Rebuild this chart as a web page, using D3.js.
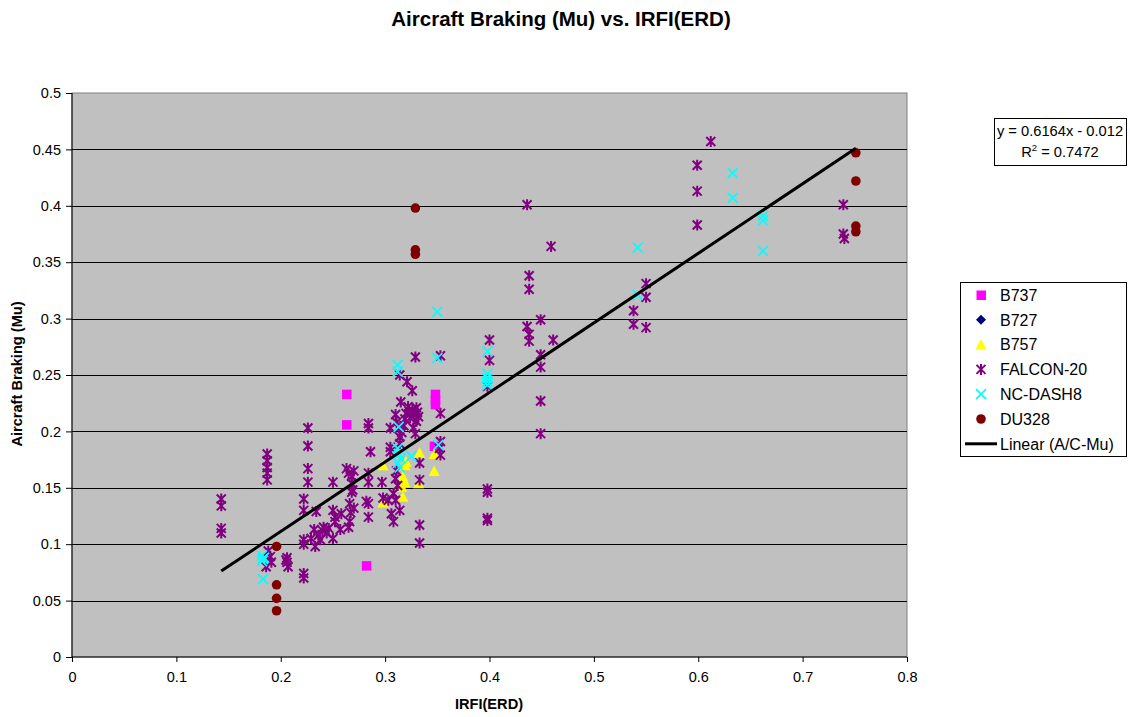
<!DOCTYPE html>
<html>
<head>
<meta charset="utf-8">
<script src="https://cdn.jsdelivr.net/npm/d3@7/dist/d3.min.js"></script>
<style>
  html, body { margin: 0; padding: 0; background: #fff; }
  svg { display: block; font-family: "Liberation Sans", Arial, sans-serif; }
</style>
</head>
<body>
<svg id="chart" width="1130" height="717"></svg>
<script>
// Braking friction measurements per aircraft type: [IRFI(ERD), Mu]
const b737 = [
  [0.263, 0.233], [0.263, 0.206], [0.282, 0.081], [0.348, 0.233],
  [0.348, 0.228], [0.348, 0.224], [0.347, 0.187]
];
const b727 = [];
const b757 = [
  [0.298, 0.170], [0.333, 0.181], [0.347, 0.180], [0.347, 0.165],
  [0.319, 0.170], [0.317, 0.160], [0.319, 0.155], [0.332, 0.154],
  [0.298, 0.137], [0.317, 0.142], [0.316, 0.151], [0.320, 0.173]
];
const falcon20 = [
  [0.143, 0.140], [0.143, 0.134], [0.143, 0.114], [0.143, 0.110],
  [0.187, 0.180], [0.187, 0.174], [0.187, 0.168], [0.187, 0.163], [0.187, 0.157],
  [0.188, 0.094], [0.190, 0.089], [0.186, 0.080], [0.191, 0.084],
  [0.206, 0.088], [0.206, 0.084], [0.207, 0.080], [0.205, 0.086],
  [0.226, 0.203], [0.226, 0.187], [0.226, 0.167], [0.226, 0.155], [0.222, 0.140],
  [0.222, 0.130], [0.222, 0.104], [0.222, 0.100], [0.222, 0.074], [0.222, 0.070],
  [0.232, 0.113], [0.236, 0.108], [0.240, 0.112], [0.238, 0.104], [0.233, 0.098],
  [0.244, 0.110], [0.246, 0.114], [0.250, 0.105], [0.229, 0.105], [0.234, 0.129],
  [0.241, 0.115],
  [0.250, 0.155], [0.250, 0.130], [0.252, 0.124], [0.252, 0.120], [0.257, 0.113],
  [0.258, 0.127], [0.263, 0.167], [0.265, 0.163], [0.268, 0.160], [0.270, 0.165],
  [0.269, 0.148], [0.268, 0.146], [0.266, 0.136], [0.267, 0.128], [0.266, 0.120],
  [0.265, 0.115], [0.270, 0.132], [0.268, 0.154],
  [0.284, 0.207], [0.284, 0.203], [0.286, 0.182], [0.284, 0.163], [0.284, 0.155],
  [0.282, 0.138], [0.284, 0.136], [0.284, 0.124],
  [0.297, 0.155], [0.298, 0.141], [0.303, 0.139], [0.305, 0.186], [0.305, 0.182],
  [0.305, 0.203], [0.308, 0.145], [0.306, 0.127], [0.308, 0.120], [0.310, 0.139],
  [0.311, 0.165], [0.310, 0.158], [0.312, 0.152], [0.310, 0.215], [0.314, 0.130],
  [0.314, 0.250], [0.321, 0.244], [0.326, 0.236], [0.315, 0.226], [0.322, 0.222],
  [0.326, 0.219], [0.330, 0.221], [0.328, 0.215], [0.324, 0.212], [0.330, 0.209],
  [0.320, 0.216], [0.332, 0.213], [0.311, 0.208], [0.313, 0.203], [0.314, 0.195],
  [0.314, 0.189], [0.327, 0.203], [0.329, 0.198], [0.316, 0.199], [0.329, 0.266],
  [0.318, 0.205], [0.323, 0.218], [0.319, 0.211], [0.331, 0.217],
  [0.333, 0.172], [0.333, 0.157], [0.333, 0.117], [0.333, 0.101],
  [0.353, 0.267], [0.353, 0.216], [0.353, 0.191], [0.352, 0.185], [0.353, 0.179],
  [0.400, 0.281], [0.400, 0.263], [0.398, 0.240], [0.398, 0.149], [0.398, 0.146],
  [0.398, 0.123], [0.398, 0.121],
  [0.436, 0.401], [0.459, 0.364], [0.438, 0.338], [0.438, 0.326], [0.449, 0.299],
  [0.436, 0.293], [0.438, 0.286], [0.438, 0.280], [0.461, 0.281], [0.449, 0.268],
  [0.449, 0.257], [0.449, 0.227], [0.449, 0.198],
  [0.550, 0.331], [0.550, 0.319], [0.538, 0.307], [0.538, 0.295], [0.550, 0.292],
  [0.612, 0.457], [0.599, 0.436], [0.599, 0.413], [0.599, 0.383],
  [0.739, 0.401], [0.739, 0.375], [0.740, 0.371]
];
const ncDash8 = [
  [0.182, 0.090], [0.183, 0.087], [0.182, 0.085], [0.184, 0.088], [0.183, 0.069],
  [0.312, 0.259], [0.312, 0.253], [0.313, 0.204], [0.312, 0.185], [0.313, 0.180],
  [0.315, 0.176], [0.312, 0.172], [0.314, 0.168], [0.325, 0.178], [0.351, 0.188],
  [0.350, 0.306], [0.350, 0.265], [0.398, 0.271], [0.398, 0.251], [0.398, 0.247],
  [0.398, 0.244], [0.398, 0.241], [0.542, 0.363], [0.542, 0.321], [0.633, 0.429],
  [0.633, 0.407], [0.662, 0.391], [0.662, 0.387], [0.662, 0.360]
];
const du328 = [
  [0.329, 0.398], [0.329, 0.361], [0.329, 0.357], [0.196, 0.098], [0.196, 0.064],
  [0.196, 0.052], [0.196, 0.041], [0.751, 0.447], [0.751, 0.422], [0.751, 0.382],
  [0.751, 0.377]
];

// Linear fit over all aircraft
const trendSlope = 0.6164;
const trendIntercept = -0.012;
const rSquared = 0.7472;

const xTicks = [0, 0.1, 0.2, 0.3, 0.4, 0.5, 0.6, 0.7, 0.8];
const yTicks = [0, 0.05, 0.1, 0.15, 0.2, 0.25, 0.3, 0.35, 0.4, 0.45, 0.5];

const seriesNames = ["B737", "B727", "B757", "FALCON-20", "NC-DASH8", "DU328"];

const series = [
  { name: seriesNames[0], data: b737, shape: "square", color: "#FF00FF" },
  { name: seriesNames[1], data: b727, shape: "diamond", color: "#000080" },
  { name: seriesNames[2], data: b757, shape: "triangle", color: "#FFFF00" },
  { name: seriesNames[3], data: falcon20, shape: "asterisk", color: "#800080" },
  { name: seriesNames[4], data: ncDash8, shape: "cross", color: "#00FFFF" },
  { name: seriesNames[5], data: du328, shape: "circle", color: "#800000" }
];

const svg = d3.select("#chart");
const plot = { left: 72, right: 907, top: 93, bottom: 657 };

const x = d3.scaleLinear().domain([0, 0.8]).range([plot.left, plot.right]);
const y = d3.scaleLinear().domain([0, 0.5]).range([plot.bottom, plot.top]);

// Title
svg.append("text")
  .attr("x", 561).attr("y", 26)
  .attr("text-anchor", "middle")
  .attr("font-size", "20.5px").attr("font-weight", "bold")
  .text("Aircraft Braking (Mu) vs. IRFI(ERD)");

// Plot area
svg.append("rect")
  .attr("x", plot.left).attr("y", plot.top)
  .attr("width", plot.right - plot.left).attr("height", plot.bottom - plot.top)
  .attr("fill", "#C0C0C0").attr("stroke", "#808080").attr("stroke-width", 1);

// Horizontal gridlines
svg.append("g").selectAll("line")
  .data(yTicks.filter(v => v > 0 && v < 0.5))
  .join("line")
  .attr("x1", plot.left).attr("x2", plot.right)
  .attr("y1", d => Math.round(y(d)) + 0.5).attr("y2", d => Math.round(y(d)) + 0.5)
  .attr("stroke", "#000").attr("stroke-width", 1);

// Axes
const fmt = d => d === 0 ? "0" : String(+d.toFixed(2));
const yAxis = svg.append("g")
  .attr("transform", `translate(${plot.left},0)`)
  .call(d3.axisLeft(y).tickValues(yTicks).tickFormat(fmt).tickSize(6).tickPadding(5));
const xAxis = svg.append("g")
  .attr("transform", `translate(0,${plot.bottom})`)
  .call(d3.axisBottom(x).tickValues(xTicks).tickFormat(fmt).tickSize(5).tickPadding(10));
[xAxis, yAxis].forEach(g => {
  g.selectAll("text").attr("font-size", "14.5px").attr("fill", "#000")
    .attr("font-family", "'Liberation Sans', Arial, sans-serif");
  g.selectAll("line").attr("stroke", "#000");
  g.select(".domain").attr("stroke", "#000");
});
yAxis.select(".domain").attr("d", `M0,${plot.top}V${plot.bottom}`);
xAxis.select(".domain").attr("d", `M${plot.left},0H${plot.right}`);

// Axis titles
svg.append("text")
  .attr("transform", "translate(22,374) rotate(-90)")
  .attr("text-anchor", "middle")
  .attr("font-size", "14.6px").attr("font-weight", "bold")
  .text("Aircraft Braking (Mu)");
svg.append("text")
  .attr("x", 489).attr("y", 709)
  .attr("text-anchor", "middle")
  .attr("font-size", "14.6px").attr("font-weight", "bold")
  .text("IRFI(ERD)");

// Marker drawing
function drawMarker(g, shape, color) {
  switch (shape) {
    case "square":
      g.append("rect").attr("x", -4.5).attr("y", -4.5).attr("width", 9.5).attr("height", 9.5)
        .attr("fill", color);
      break;
    case "diamond":
      g.append("path").attr("d", "M0,-5L5,0L0,5L-5,0Z").attr("fill", color);
      break;
    case "triangle":
      g.append("path").attr("d", "M0,-5.5L5.5,5L-5.5,5Z").attr("fill", color);
      break;
    case "asterisk":
      g.append("path").attr("d", "M-4.5,-4.5L4.5,4.5M-4.5,4.5L4.5,-4.5M0,-5.5V5.5")
        .attr("stroke", color).attr("stroke-width", 2).attr("fill", "none");
      break;
    case "cross":
      g.append("path").attr("d", "M-5,-5L5,5M-5,5L5,-5")
        .attr("stroke", color).attr("stroke-width", 1.7).attr("fill", "none");
      break;
    case "circle":
      g.append("circle").attr("r", 4.8).attr("fill", color);
      break;
  }
}

const marks = svg.append("g");
series.forEach(s => {
  const sg = marks.append("g").attr("class", "series");
  s.data.forEach(d => {
    const g = sg.append("g").attr("transform", `translate(${x(d[0])},${y(d[1])})`);
    drawMarker(g, s.shape, s.color);
  });
});

// Trendline across the data range
const allX = series.flatMap(s => s.data.map(d => d[0]));
const xMin = d3.min(allX), xMax = d3.max(allX);
svg.append("line")
  .attr("x1", x(xMin)).attr("y1", y(trendSlope * xMin + trendIntercept))
  .attr("x2", x(xMax)).attr("y2", y(trendSlope * xMax + trendIntercept))
  .attr("stroke", "#000").attr("stroke-width", 3);

// Equation label
const eq = svg.append("g");
eq.append("rect").attr("x", 994.5).attr("y", 118.5).attr("width", 132).attr("height", 47)
  .attr("fill", "#fff").attr("stroke", "#000");
eq.append("text").attr("x", 1060).attr("y", 136).attr("text-anchor", "middle")
  .attr("font-size", "14.7px")
  .text(`y = ${trendSlope}x - ${Math.abs(trendIntercept)}`);
const r2 = eq.append("text").attr("x", 1060).attr("y", 157).attr("text-anchor", "middle")
  .attr("font-size", "14.7px");
r2.append("tspan").text("R");
r2.append("tspan").attr("font-size", "9.5px").attr("dy", -6).text("2");
r2.append("tspan").attr("dy", 6).text(` = ${rSquared}`);

// Legend
const legend = svg.append("g");
legend.append("rect").attr("x", 960.5).attr("y", 282.5).attr("width", 166).attr("height", 174)
  .attr("fill", "#fff").attr("stroke", "#000");
const rowY = i => 295 + i * 24.8;
series.forEach((s, i) => {
  const g = legend.append("g").attr("transform", `translate(981,${rowY(i)})`);
  drawMarker(g, s.shape, s.color);
  legend.append("text").attr("x", 1000).attr("y", rowY(i)).attr("dy", "0.36em")
    .attr("font-size", "16px").text(s.name);
});
legend.append("line").attr("x1", 965).attr("x2", 997)
  .attr("y1", rowY(6)).attr("y2", rowY(6))
  .attr("stroke", "#000").attr("stroke-width", 3);
legend.append("text").attr("x", 1000).attr("y", rowY(6)).attr("dy", "0.36em")
  .attr("font-size", "16px").text("Linear (A/C-Mu)");
</script>
</body>
</html>
